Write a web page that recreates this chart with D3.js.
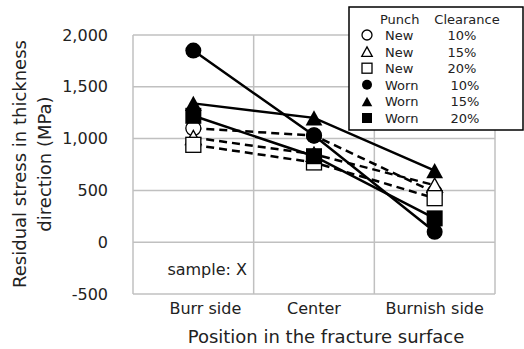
<!DOCTYPE html>
<html><head><meta charset="utf-8">
<script src="https://cdn.jsdelivr.net/npm/d3@7"></script>
<style>body{margin:0;background:#fff}svg{display:block;font-family:"DejaVu Sans",Verdana,sans-serif}</style>
</head><body><svg id="c" width="524" height="349"></svg>
<script>
const categories = ["Burr side", "Center", "Burnish side"];
const yTicks = [-500, 0, 500, 1000, 1500, 2000];
const seriesNames = ["New 10%", "New 15%", "New 20%", "Worn 10%", "Worn 15%", "Worn 20%"];
const punch = ["New", "New", "New", "Worn", "Worn", "Worn"];
const clearance = ["10%", "15%", "20%", "10%", "15%", "20%"];
const new10 = [1100, 1030, 480];
const new15 = [1010, 850, 550];
const new20 = [940, 770, 425];
const worn10 = [1850, 1030, 100];
const worn15 = [1340, 1200, 690];
const worn20 = [1220, 830, 230];

const seriesValues = [new10, new15, new20, worn10, worn15, worn20];
const shapes = ["circle", "triangle", "square", "circle", "triangle", "square"];
const filled = [false, false, false, true, true, true];

const svg = d3.select("#c");
const L = 133, R = 495, T = 35, B = 294;
const x = d3.scaleBand().domain(categories).range([L, R]).padding(0);
const y = d3.scaleLinear().domain([-500, 2000]).range([B, T]);
const grid = "#c0c0c0";

svg.append("g").selectAll("line").data(yTicks).join("line")
  .attr("x1", L).attr("x2", R).attr("y1", d => y(d)).attr("y2", d => y(d))
  .attr("stroke", grid).attr("stroke-width", 1.5);
const edges = categories.map(c => x(c)).concat([R]);
svg.append("g").selectAll("line").data(edges).join("line")
  .attr("x1", d => d).attr("x2", d => d).attr("y1", T).attr("y2", B)
  .attr("stroke", grid).attr("stroke-width", 1.5);

const fmt = d3.format(",");
const yAxis = svg.append("g").attr("transform", `translate(${L},0)`)
  .call(d3.axisLeft(y).tickValues(yTicks).tickFormat(d => fmt(d).replace("\u2212", "-")).tickSize(0).tickPadding(25));
yAxis.select(".domain").remove();
yAxis.selectAll("text").attr("font-size", 16).attr("fill", "#222").attr("font-family", '"DejaVu Sans",sans-serif');

const xAxis = svg.append("g").attr("transform", `translate(0,${B})`)
  .call(d3.axisBottom(x).tickSize(0).tickPadding(9));
xAxis.select(".domain").remove();
xAxis.selectAll("text").attr("font-size", 16).attr("fill", "#222").attr("font-family", '"DejaVu Sans",sans-serif')
  .attr("dx", (d, i) => i === 0 ? 12 : 0);

svg.append("text").attr("x", 326).attr("y", 343).attr("text-anchor", "middle")
  .attr("font-size", 18).attr("fill", "#222").text("Position in the fracture surface");
svg.append("text").attr("transform", "translate(26,164) rotate(-90)").attr("text-anchor", "middle")
  .attr("font-size", 18).attr("fill", "#222").text("Residual stress in thickness");
svg.append("text").attr("transform", "translate(50.5,164) rotate(-90)").attr("text-anchor", "middle")
  .attr("font-size", 18).attr("fill", "#222").text("direction (MPa)");

svg.append("text").attr("x", 247).attr("y", 275).attr("text-anchor", "end")
  .attr("font-size", 16).attr("fill", "#222").text("sample: X");

const cx = c => x(c) + x.bandwidth() / 2;
const line = d3.line().x((d, i) => cx(categories[i])).y(d => y(d));

svg.append("g").selectAll("path").data(seriesValues).join("path")
  .attr("d", d => line(d)).attr("fill", "none").attr("stroke", "#000")
  .attr("stroke-width", 2.5)
  .attr("stroke-dasharray", (d, i) => filled[i] ? null : "8,5");

function drawMarker(g, shape, isFilled, px, py, s) {
  const fill = isFilled ? "#000" : "#fff";
  const sw = isFilled ? 0 : 1.3;
  if (shape === "circle") {
    g.append("circle").attr("cx", px).attr("cy", py).attr("r", s / 2)
      .attr("fill", fill).attr("stroke", "#000").attr("stroke-width", sw);
  } else if (shape === "square") {
    g.append("rect").attr("x", px - s / 2).attr("y", py - s / 2).attr("width", s).attr("height", s)
      .attr("fill", fill).attr("stroke", "#000").attr("stroke-width", sw);
  } else {
    const h = s * 0.95, w = s * 1.05;
    g.append("path").attr("d", `M${px},${py - h / 2}L${px + w / 2},${py + h / 2}L${px - w / 2},${py + h / 2}Z`)
      .attr("fill", fill).attr("stroke", "#000").attr("stroke-width", sw);
  }
}

const mg = svg.append("g");
seriesValues.forEach((vals, si) => {
  vals.forEach((v, i) => drawMarker(mg, shapes[si], filled[si], cx(categories[i]), y(v), filled[si] ? 16 : 15));
});

const lg = svg.append("g");
lg.append("rect").attr("x", 349).attr("y", 7).attr("width", 174).attr("height", 123)
  .attr("fill", "#fff").attr("stroke", "#000").attr("stroke-width", 1.5);
lg.append("text").attr("x", 380).attr("y", 23.5).attr("font-size", 13).attr("fill", "#222").text("Punch");
lg.append("text").attr("x", 467).attr("y", 23.5).attr("text-anchor", "middle").attr("font-size", 13).attr("fill", "#222").text("Clearance");
seriesNames.forEach((n, i) => {
  const by = 40 + i * 16.6;
  drawMarker(lg, shapes[i], filled[i], 367, by - 5, 10);
  lg.append("text").attr("x", 385).attr("y", by).attr("font-size", 13).attr("fill", "#222").text(punch[i]);
  lg.append("text").attr("x", filled[i] ? 465 : 462).attr("y", by).attr("text-anchor", "middle")
    .attr("font-size", 13).attr("fill", "#222").text(clearance[i]);
});
</script></body></html>
